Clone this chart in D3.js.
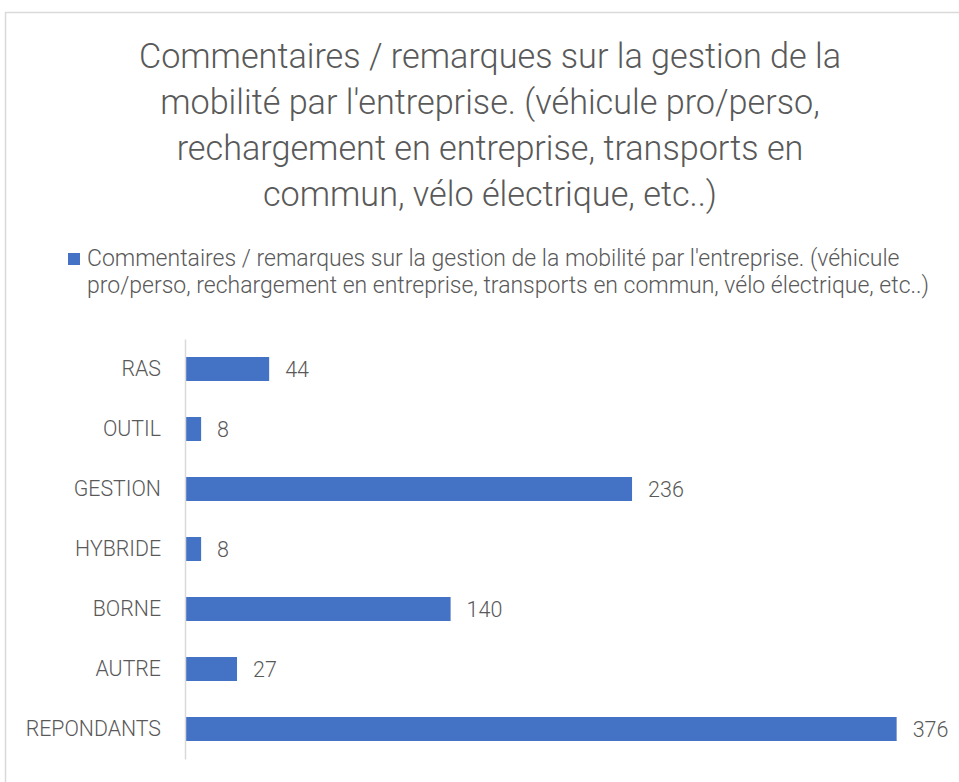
<!DOCTYPE html>
<html><head><meta charset="utf-8">
<script src="https://cdn.jsdelivr.net/npm/d3@7"></script>
<style>
body{margin:0;background:#fff;}
svg{display:block;}
text{font-family:Roboto,"Open Sans",sans-serif;fill:#595959;}
</style></head>
<body><svg id="c" width="959" height="782"></svg>
<script>
const categories = ["RAS","OUTIL","GESTION","HYBRIDE","BORNE","AUTRE","REPONDANTS"];
const values = [44,8,236,8,140,27,376];
const titleLines = ["Commentaires / remarques sur la gestion de la","mobilité par l'entreprise. (véhicule pro/perso,","rechargement en entreprise, transports en","commun, vélo électrique, etc..)"];
const legendLines = ["Commentaires / remarques sur la gestion de la mobilité par l'entreprise. (véhicule","pro/perso, rechargement en entreprise, transports en commun, vélo électrique, etc..)"];
const color = "#4472C4";

const svg = d3.select("#c");
svg.append("rect").attr("x",5.5).attr("y",12.5).attr("width",970).attr("height",800)
  .attr("fill","#fff").attr("stroke","#d9d9d9").attr("stroke-width",1.5);

const title = svg.append("g");
titleLines.forEach((t,i)=>{
  title.append("text").attr("x",490).attr("y",68+i*46).attr("text-anchor","middle")
    .style("font-size","34.2px").style("font-weight",300).text(t);
});

svg.append("rect").attr("x",68).attr("y",253).attr("width",12).attr("height",12).attr("fill",color);
legendLines.forEach((t,i)=>{
  svg.append("text").attr("x",87).attr("y",266+i*27).style("font-size","23px").style("font-weight",300).text(t);
});

const x = d3.scaleLinear().domain([0,400]).range([186,942]);
const y = d3.scaleBand().domain(categories).range([339,759]).paddingInner(0.6).paddingOuter(0.3);

svg.selectAll("rect.bar").data(values).join("rect").attr("class","bar")
  .attr("x",x(0)).attr("y",(d,i)=>y(categories[i]))
  .attr("width",d=>x(d)-x(0)).attr("height",y.bandwidth()).attr("fill",color);

svg.selectAll("text.val").data(values).join("text").attr("class","val")
  .attr("x",d=>x(d)+16).attr("y",(d,i)=>y(categories[i])+y.bandwidth()/2)
  .attr("dy","0.36em").style("font-size","21.5px").style("font-weight",300).text(d=>d);

const yAxis = d3.axisLeft(y).tickSize(0).tickPadding(24);
const ga = svg.append("g").attr("transform","translate(185,0)").call(yAxis);
ga.select(".domain").attr("stroke","#d9d9d9").attr("stroke-width",1.5);
ga.selectAll("text").style("font-size","21.3px").style("font-family","Roboto,sans-serif").attr("fill","#595959").style("font-weight",300);
</script></body></html>
